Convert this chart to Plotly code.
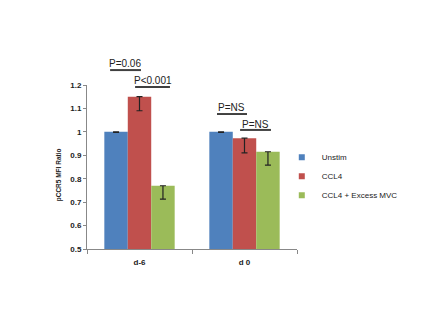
import plotly.graph_objects as go

categories = ["d-6", "d 0"]
series_names = ["Unstim", "CCL4", "CCL4 + Excess MVC"]
series_values = [[1.0, 1.0], [1.15, 0.973], [0.77, 0.915]]
series_err_minus = [[0.002, 0.002], [0.06, 0.063], [0.057, 0.057]]
colors = ["#4F81BD", "#C0504D", "#9BBB59"]
tick_vals = [0.5, 0.6, 0.7, 0.8, 0.9, 1.0, 1.1, 1.2]
tick_text = ["0.5", "0.6", "0.7", "0.8", "0.9", "1", "1.1", "1.2"]
y_title = "pCCR5 MFI Ratio"

p_labels = ["P=0.06", "P<0.001", "P=NS", "P=NS"]

fig = go.Figure()
for name, vals, errm, col in zip(series_names, series_values, series_err_minus, colors):
    fig.add_trace(go.Bar(
        x=categories, y=vals, name=name, marker_color=col,
        marker_line_width=0, showlegend=False,
        error_y=dict(type="data", symmetric=False, array=[0] * len(vals), arrayminus=errm,
                     color="#222222", thickness=1.2, width=3),
    ))
# legend entries with small square swatches
for name, col in zip(series_names, colors):
    fig.add_trace(go.Scatter(x=[None], y=[None], mode="markers", name=name,
                             marker=dict(symbol="square", size=6, color=col)))

# significance brackets (paper coords)
lines = [(0.110, 0.257, 1.091), (0.229, 0.395, 0.988), (0.619, 0.762, 0.823), (0.729, 0.876, 0.726)]
texts = [(0.181, 1.134), (0.314, 1.03), (0.69, 0.86), (0.80, 0.762)]
for (x0, x1, y), (tx, ty), lab in zip(lines, texts, p_labels):
    fig.add_shape(type="line", xref="paper", yref="paper", x0=x0, x1=x1, y0=y, y1=y,
                  line=dict(color="#404040", width=2))
    fig.add_annotation(xref="paper", yref="paper", x=tx, y=ty, text=lab, showarrow=False,
                       xanchor="center", yanchor="middle",
                       font=dict(size=10, color="#222222", family="Liberation Sans"))

# y-axis title
fig.add_annotation(xref="paper", yref="paper", x=-0.133, y=0.45, text="<b>" + y_title + "</b>",
                   textangle=-90, showarrow=False, xanchor="center", yanchor="middle",
                   font=dict(size=6.5, color="#222222", family="Liberation Sans"))

fig.update_layout(
    width=418, height=310,
    margin=dict(l=79, r=129, t=77, b=69, autoexpand=False),
    paper_bgcolor="white", plot_bgcolor="white",
    barmode="group", bargap=0.33, bargroupgap=0,
    font=dict(family="Liberation Sans", size=8, color="#222222"),
    showlegend=True,
    legend=dict(xref="container", yref="container", x=0.655, y=0.565,
                xanchor="left", yanchor="top", font=dict(size=8),
                bgcolor="rgba(0,0,0,0)", itemwidth=30),
    xaxis=dict(showline=True, linecolor="#888888", linewidth=1, ticks="outside",
               tickson="boundaries", ticklen=4, tickcolor="#888888", ticklabelstandoff=5,
               automargin=False,
               tickfont=dict(size=8, family="Liberation Sans", color="#222222"),
               tickprefix="<b>", ticksuffix="</b>"),
    yaxis=dict(range=[0.5, 1.2], tickvals=tick_vals, ticktext=["<b>" + t + "</b>" for t in tick_text],
               showline=True, linecolor="#888888", linewidth=1, ticks="outside", ticklen=3,
               tickcolor="#888888", showgrid=False, zeroline=False, automargin=False,
               tickfont=dict(size=8, family="Liberation Sans", color="#222222")),
)

fig.write_html("out.html")
